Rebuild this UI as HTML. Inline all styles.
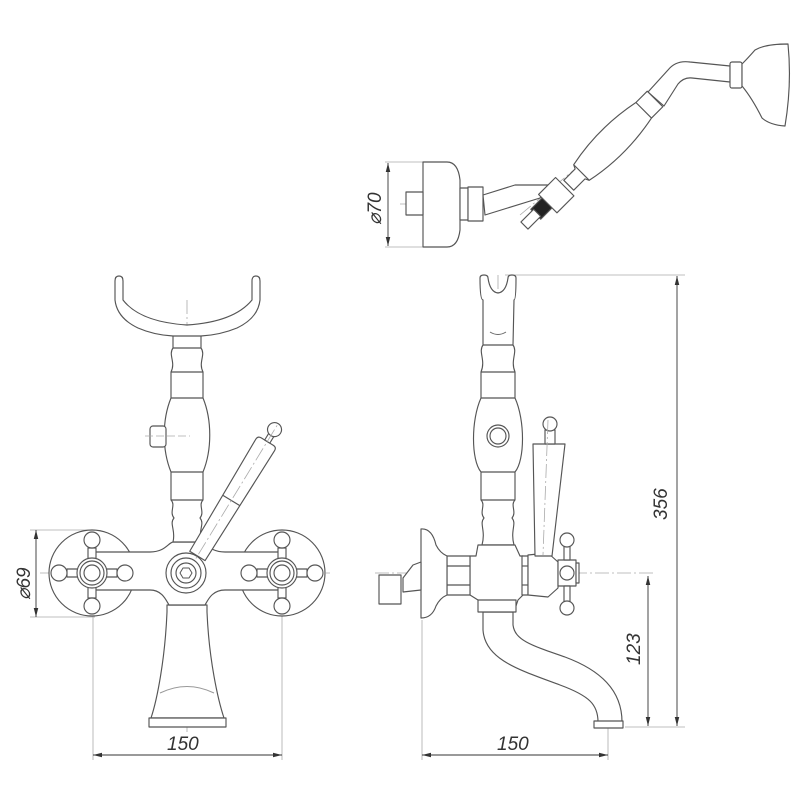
<!DOCTYPE html>
<html><head><meta charset="utf-8"><style>
html,body{margin:0;padding:0;background:#fff;width:800px;height:800px;overflow:hidden}
svg{display:block}
text{font-family:"Liberation Sans",sans-serif;font-style:italic;fill:#333}
</style></head><body>
<svg width="800" height="800" viewBox="0 0 800 800" xmlns="http://www.w3.org/2000/svg">
<defs>
<marker id="ar" viewBox="0 0 10 10" refX="10" refY="5" markerWidth="9" markerHeight="9" orient="auto-start-reverse" markerUnits="userSpaceOnUse"><path d="M0,2.5 L10,5 L0,7.5 Z" fill="#333"/></marker>
</defs>
<g fill="none" stroke="#aaa" stroke-width="0.8">
<line x1="187" y1="300" x2="187" y2="735" stroke-dasharray="14,3,2,3"/>
<line x1="40" y1="573" x2="330" y2="573" stroke-dasharray="14,3,2,3"/>
<line x1="30" y1="530" x2="95" y2="530"/><line x1="30" y1="617" x2="95" y2="617"/>
<line x1="93" y1="610" x2="93" y2="760"/><line x1="282" y1="610" x2="282" y2="760"/>
<line x1="498" y1="275" x2="498" y2="640" stroke-dasharray="14,3,2,3"/>
<line x1="375" y1="573" x2="655" y2="573" stroke-dasharray="14,3,2,3"/>
<line x1="505" y1="275" x2="685" y2="275"/>
<line x1="625" y1="727" x2="685" y2="727"/>
<line x1="422" y1="620" x2="422" y2="760"/><line x1="608" y1="705" x2="608" y2="760"/>
<line x1="385" y1="162" x2="425" y2="162"/><line x1="385" y1="247" x2="425" y2="247"/>
<line x1="400" y1="204" x2="520" y2="204" stroke-dasharray="14,3,2,3"/>
<line x1="520" y1="215" x2="660" y2="98" stroke-dasharray="14,3,2,3"/>
<line x1="690" y1="72" x2="790" y2="82" stroke-dasharray="14,3,2,3"/>
</g>
<g stroke="#333" stroke-width="0.9" fill="none">
<line x1="36" y1="530" x2="36" y2="617" marker-start="url(#ar)" marker-end="url(#ar)"/>
<line x1="93" y1="755" x2="282" y2="755" marker-start="url(#ar)" marker-end="url(#ar)"/>
<line x1="422" y1="755" x2="608" y2="755" marker-start="url(#ar)" marker-end="url(#ar)"/>
<line x1="677" y1="276" x2="677" y2="726" marker-start="url(#ar)" marker-end="url(#ar)"/>
<line x1="648" y1="576" x2="648" y2="726" marker-start="url(#ar)" marker-end="url(#ar)"/>
<line x1="388" y1="163" x2="388" y2="246" marker-start="url(#ar)" marker-end="url(#ar)"/>
</g>
<text x="167" y="750" font-size="19">150</text>
<text x="497" y="750" font-size="19">150</text>
<text font-size="19" transform="translate(667,520) rotate(-90)">356</text>
<text font-size="19" transform="translate(640,665) rotate(-90)">123</text>
<text font-size="19" transform="translate(30,600) rotate(-90)">⌀69</text>
<text font-size="19" transform="translate(381,225) rotate(-90)">⌀70</text>

<g fill="#fff" stroke="#555" stroke-width="1.15" stroke-linejoin="round">
<!-- FRONT VIEW -->
<path d="M167,605 L207,605 L207,612 C209,660 218,700 224,718 L151,718 C157,700 165,660 167,612 Z"/>
<rect x="149" y="718" width="77" height="9"/>
<path d="M160,693 Q187,680 214,693" stroke="#999" stroke-width="1"/>
<circle cx="92" cy="573" r="43"/>
<circle cx="282" cy="573" r="43"/>
<path d="M92,552 L150,552 C165,552 168,543 173,542 L201,542 C206,543 210,552 225,552 L282,552 L282,590 L225,590 C212,590 208,600 205,605 L169,605 C166,600 162,590 150,590 L92,590 Z"/>
<path d="M173,335 L201,335 L201,348 C206,355 198,362 203,372 L203,398 C212,420 212,450 203,472 L203,500 C198,505 205,512 200,518 C205,524 198,530 201,542 L173,542 C176,530 169,524 174,518 C169,512 176,505 171,500 L171,472 C162,450 162,420 171,398 L171,372 C176,362 168,355 173,348 Z"/>
<line x1="171" y1="372" x2="203" y2="372"/><line x1="171" y1="398" x2="203" y2="398"/>
<line x1="171" y1="472" x2="203" y2="472"/><line x1="171" y1="500" x2="203" y2="500"/>
<line x1="173" y1="348" x2="201" y2="348"/>
<rect x="150" y="426" width="16" height="21" rx="3"/>
<line x1="145" y1="436" x2="190" y2="436" stroke="#aaa" stroke-width="0.8" stroke-dasharray="8,3"/>
<path d="M115,281 Q115,276 119,276 Q123,276 123,281 L123,300 Q140,322 187,325 Q234,322 252,300 L252,281 Q252,276 256,276 Q260,276 260,281 L260,300 Q258,318 237,328 Q220,335 201,336 L173,336 Q154,335 138,328 Q117,318 115,300 Z"/>
<g id="cross">
<path d="M88,548 L96,548 L96,569 L117,569 L117,577 L96,577 L96,598 L88,598 L88,577 L67,577 L67,569 L88,569 Z"/>
<circle cx="92" cy="540" r="8"/><circle cx="92" cy="606" r="8"/>
<circle cx="59" cy="573" r="8"/><circle cx="125" cy="573" r="8"/>
<circle cx="92" cy="573" r="15"/><circle cx="92" cy="573" r="12"/><circle cx="92" cy="573" r="8"/>
</g>
<use href="#cross" transform="translate(190,0)"/>
<circle cx="186" cy="573" r="20"/>
<g transform="translate(187,573) rotate(-58.6)">
<path d="M20,-9 L150,-11 Q154,-11 154,-7 L154,7 Q154,11 150,11 L20,9 Z"/>
<line x1="85" y1="-10" x2="85" y2="10"/>
<rect x="154" y="-3" width="8" height="6"/>
<circle cx="168" cy="0" r="7"/>
<line x1="0" y1="0" x2="175" y2="0" stroke="#aaa" stroke-width="0.8" stroke-dasharray="14,3,2,3"/>
</g>
<circle cx="186" cy="573" r="15"/><circle cx="186" cy="573" r="10"/>
<path d="M180,573 L183,568 L189,568 L192,573 L189,578 L183,578 Z" stroke-width="1"/>

<!-- SIDE VIEW -->
<path d="M483,612 L483,630 C485,660 520,670 560,685 C590,696 598,705 598,722 L622,722 C622,690 600,670 565,657 C530,645 515,640 513,625 L513,612 Z"/>
<rect x="594" y="721" width="29" height="7"/>
<path d="M480,278 Q480,275 484,275 Q488,275 488,278 Q490,292 498,293 Q506,292 508,278 Q508,275 512,275 Q516,275 516,278 Q516,300 514,300 L513,345 C518,352 510,360 515,372 L515,398 C525,420 525,460 515,472 L515,500 C510,505 517,512 512,518 C517,524 510,530 514,545 L482,545 C486,530 479,524 484,518 C479,512 486,505 481,500 L481,472 C471,460 471,420 481,398 L481,372 C486,360 478,352 483,345 L483,300 Q480,300 480,278 Z"/>
<line x1="481" y1="372" x2="515" y2="372"/><line x1="481" y1="398" x2="515" y2="398"/>
<line x1="481" y1="472" x2="515" y2="472"/><line x1="481" y1="500" x2="515" y2="500"/>
<line x1="483" y1="345" x2="513" y2="345"/>
<path d="M490,332 Q498,337 506,332" stroke="#666" stroke-width="1"/>
<circle cx="498" cy="436" r="11"/><circle cx="498" cy="436" r="8"/>
<path d="M478,545 L515,545 L520,556 L523,556 L523,595 L518,600 L516,606 L480,606 L478,600 L470,595 L470,556 L476,556 Z"/>
<rect x="478" y="600" width="38" height="12"/>
<rect x="522" y="556" width="6" height="39"/>
<line x1="522" y1="566" x2="528" y2="566"/><line x1="522" y1="585" x2="528" y2="585"/>
<path d="M528,555 L548,553 L558,562 L558,588 L548,597 L528,595 Z"/>
<rect x="558" y="560" width="18" height="26"/>
<rect x="576" y="563" width="3" height="20"/>
<circle cx="567" cy="573" r="7"/>
<rect x="564" y="545" width="6" height="15"/><rect x="564" y="586" width="6" height="16"/>
<circle cx="567" cy="540" r="7"/><circle cx="567" cy="608" r="7"/>
<path d="M447,556 L470,556 L470,595 L447,595 Z"/>
<line x1="447" y1="566" x2="470" y2="566"/><line x1="447" y1="585" x2="470" y2="585"/>
<path d="M421,529 Q432,528 436,545 Q440,553 447,556 L447,595 Q440,598 436,606 Q432,618 421,618 Z"/>
<path d="M421,562 L413,565 L403,578 L403,592 L421,590 Z"/>
<rect x="379" y="575" width="22" height="29"/>
<path d="M533,444 L565,444 L552,556 L535,556 Z"/>
<rect x="545" y="430" width="10" height="14"/>
<circle cx="550" cy="424" r="7"/>
<line x1="548" y1="420" x2="543" y2="555" stroke="#aaa" stroke-width="0.8" stroke-dasharray="14,3,2,3"/>

<!-- TOP VIEW -->
<path d="M423,162 L447,162 Q458,162 460,180 L460,230 Q458,247 447,247 L423,247 Z"/>
<rect x="406" y="192" width="17" height="23"/>
<rect x="460" y="188" width="8" height="32"/>
<rect x="468" y="187" width="15" height="34"/>
<path d="M483,195 L515,185 L548,185 L540,198 L485,215 Z"/>
<g transform="translate(540,210) rotate(-45)">
<rect x="-6" y="-7" width="36" height="14" fill="#222"/>
<rect x="-22" y="-5" width="18" height="10"/>
<rect x="10" y="-12" width="24" height="26"/>
</g>
<!-- neck -->
<path d="M648,92 L668,70 Q676,60 690,62 L730,66 L730,82 L692,78 Q684,77 678,84 L664,106 Z"/>
<!-- handle (fat) -->
<g transform="translate(573,181) rotate(-45)">
<path d="M-6,-7 L10,-7 L12,-11 Q55,-20 100,-11 L116,-11 L116,11 L100,11 Q55,20 12,11 L10,7 L-6,7 Z"/>
<line x1="12" y1="-11" x2="12" y2="11"/>
<line x1="100" y1="-11" x2="100" y2="11"/>
</g>
<rect x="730" y="62" width="12" height="26" rx="2"/>
<path d="M742,64 Q748,58 755,50 Q765,44 788,44 Q792,84 785,126 Q770,125 762,118 Q752,98 742,86 Z"/>
</g>
</svg>
</body></html>
